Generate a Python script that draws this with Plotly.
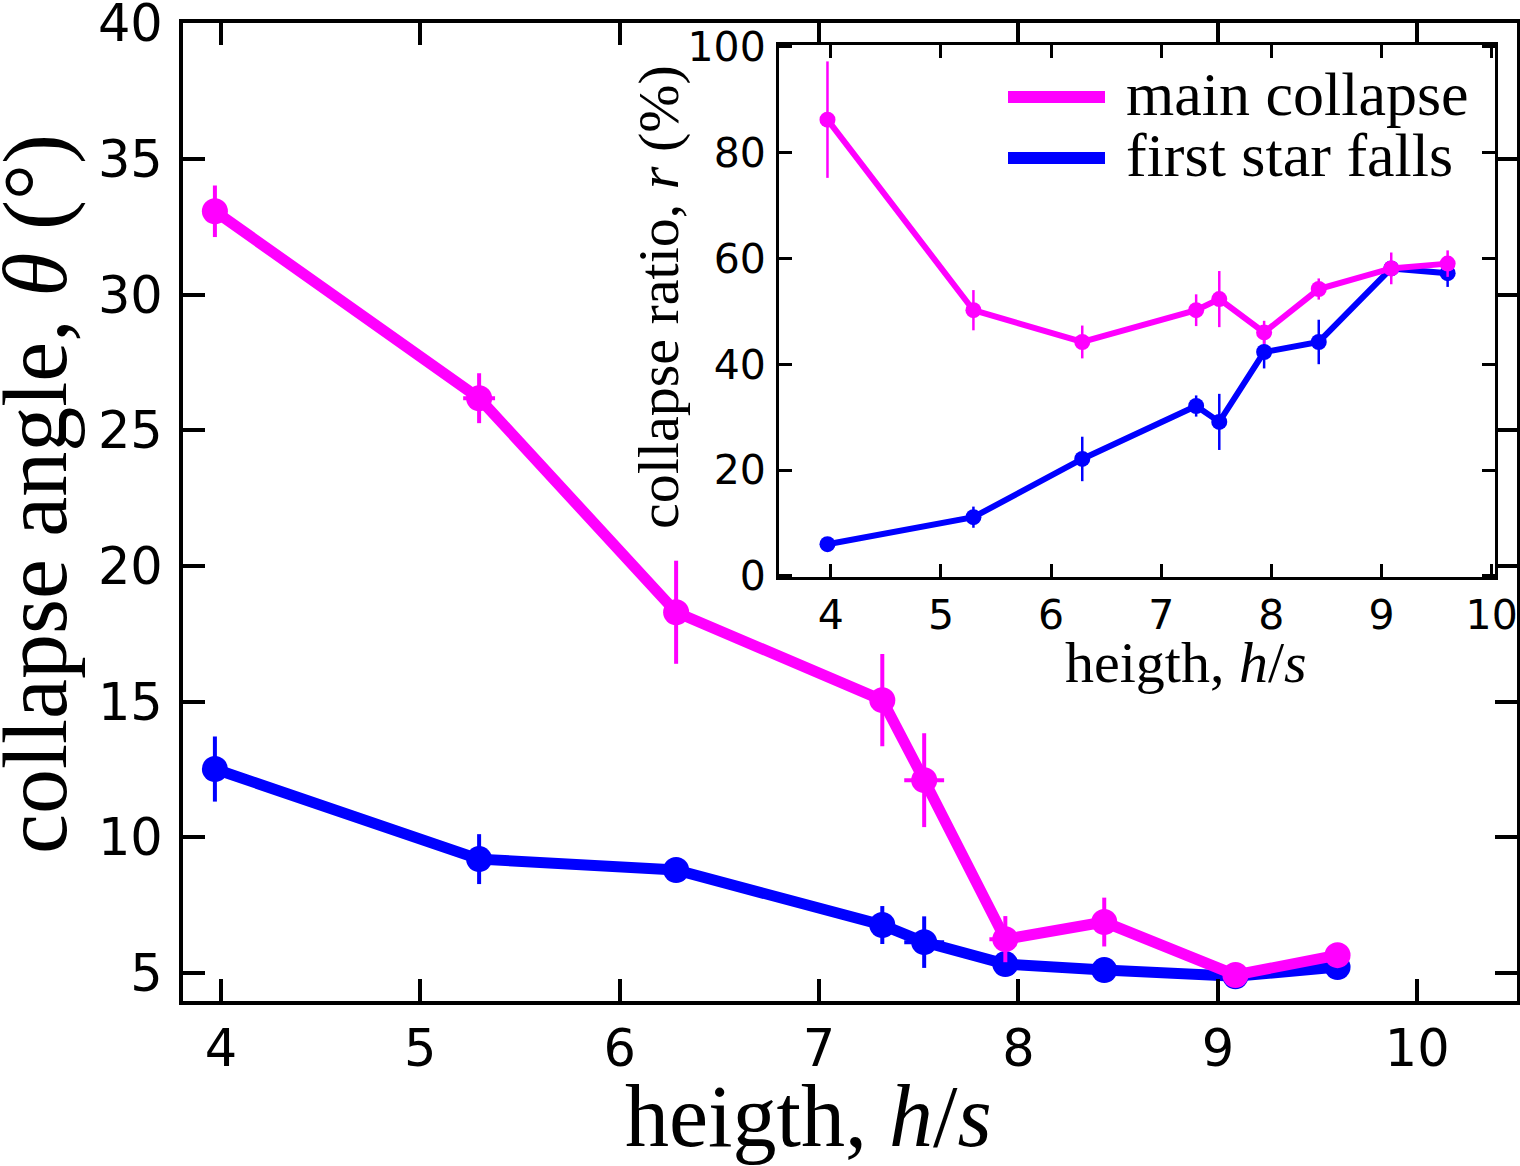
import plotly.graph_objects as go

# ---------------- data ----------------
heights = [3.97, 5.295, 6.283, 7.317, 7.527, 7.934, 8.43, 9.088, 9.6]

angle_main = [33.08, 26.19, 18.3, 15.06, 12.11, 6.25, 6.88, 4.93, 5.66]
angle_main_err = [0.95, 0.92, 1.9, 1.7, 1.73, 0.85, 0.9, 0.0, 0.0]
angle_main_xerr = [0.0, 0.08, 0.0, 0.0, 0.1, 0.08, 0.0, 0.0, 0.0]

angle_first = [12.52, 9.2, 8.8, 6.77, 6.14, 5.33, 5.11, 4.88, 5.22]
angle_first_err = [1.2, 0.92, 0.0, 0.7, 0.95, 0.0, 0.0, 0.0, 0.0]
angle_first_xerr = [0.0, 0.0, 0.0, 0.06, 0.1, 0.0, 0.0, 0.0, 0.0]

ratio_main = [86.2, 50.2, 44.2, 50.2, 52.3, 46.0, 54.2, 58.1, 59.0]
ratio_main_err = [11.0, 3.8, 3.1, 3.0, 5.3, 2.2, 2.0, 3.0, 2.5]

ratio_first = [6.0, 11.1, 22.1, 32.1, 29.1, 42.3, 44.2, 58.1, 57.2]
ratio_first_err = [0.0, 2.0, 4.2, 2.0, 5.3, 3.1, 4.2, 0.0, 2.6]

main_xticks = [4, 5, 6, 7, 8, 9, 10]
main_yticks = [5, 10, 15, 20, 25, 30, 35, 40]
inset_xticks = [4, 5, 6, 7, 8, 9, 10]
inset_yticks = [0, 20, 40, 60, 80, 100]

MAGENTA = "#FF00FF"
BLUE = "#0000FF"
W, H = 1520, 1166
L, R, T, B = 183, 3, 23, 165

def px_x(px):
    return (px - L) / (W - L - R)

def px_y(py):
    return (H - B - py) / (H - T - B)

fig = go.Figure()

# main plot
fig.add_trace(go.Scatter(
    x=heights, y=angle_first, mode="lines+markers",
    line=dict(color=BLUE, width=11), marker=dict(color=BLUE, size=26),
    error_y=dict(type="data", array=angle_first_err, color=BLUE, thickness=4, width=0),
    error_x=dict(type="data", array=angle_first_xerr, color=BLUE, thickness=4, width=0),
    showlegend=False, xaxis="x", yaxis="y"))
fig.add_trace(go.Scatter(
    x=heights, y=angle_main, mode="lines+markers",
    line=dict(color=MAGENTA, width=11), marker=dict(color=MAGENTA, size=26),
    error_y=dict(type="data", array=angle_main_err, color=MAGENTA, thickness=4, width=0),
    error_x=dict(type="data", array=angle_main_xerr, color=MAGENTA, thickness=4, width=0),
    showlegend=False, xaxis="x", yaxis="y"))

# inset
fig.add_trace(go.Scatter(
    x=heights, y=ratio_first, mode="lines+markers",
    line=dict(color=BLUE, width=6), marker=dict(color=BLUE, size=16),
    error_y=dict(type="data", array=ratio_first_err, color=BLUE, thickness=2.5, width=0),
    showlegend=False, xaxis="x2", yaxis="y2"))
fig.add_trace(go.Scatter(
    x=heights, y=ratio_main, mode="lines+markers",
    line=dict(color=MAGENTA, width=6), marker=dict(color=MAGENTA, size=16),
    error_y=dict(type="data", array=ratio_main_err, color=MAGENTA, thickness=2.5, width=0),
    showlegend=False, xaxis="x2", yaxis="y2"))

tickfont_main = dict(family="DejaVu Sans", size=51, color="black")
tickfont_inset = dict(family="DejaVu Sans", size=41, color="black")

fig.update_layout(
    width=W, height=H,
    margin=dict(l=L, r=R, t=T, b=B, autoexpand=False),
    paper_bgcolor="white", plot_bgcolor="white",
    xaxis=dict(range=[3.81, 10.5], tickvals=main_xticks, ticks="inside", ticklen=22,
               tickwidth=4, tickcolor="black", showline=True, linewidth=4, linecolor="black",
               mirror="ticks", showgrid=False, zeroline=False, tickfont=tickfont_main,
               ticklabelstandoff=0, automargin=False, ticklabeloverflow="allow"),
    yaxis=dict(range=[3.97, 40.02], tickvals=main_yticks, ticks="inside", ticklen=22,
               tickwidth=4, tickcolor="black", showline=True, linewidth=4, linecolor="black",
               mirror="ticks", showgrid=False, zeroline=False, tickfont=tickfont_main,
               ticklabelstandoff=6, automargin=False, ticklabeloverflow="allow"),
    xaxis2=dict(domain=[px_x(779), px_x(1495)], anchor="y2", range=[3.53, 10.03],
                tickvals=inset_xticks, ticks="inside", ticklen=13, tickwidth=3,
                tickcolor="black", showline=True, linewidth=3, linecolor="black",
                mirror="ticks", showgrid=False, zeroline=False, tickfont=tickfont_inset,
                ticklabelstandoff=0, automargin=False, ticklabeloverflow="allow"),
    yaxis2=dict(domain=[px_y(577), px_y(45)], anchor="x2", range=[-0.2, 100.3],
                tickvals=inset_yticks, ticks="inside", ticklen=13, tickwidth=3,
                tickcolor="black", showline=True, linewidth=3, linecolor="black",
                mirror="ticks", showgrid=False, zeroline=False, tickfont=tickfont_inset,
                ticklabelstandoff=2, automargin=False, ticklabeloverflow="allow"),
)

serif = "Liberation Serif"
annotations = [
    dict(text="heigth, <i>h</i>/<i>s</i>", x=px_x(808), y=px_y(1116), xref="paper", yref="paper",
         showarrow=False, font=dict(family=serif, size=88, color="black"),
         xanchor="center", yanchor="middle"),
    dict(text="collapse angle, <i>θ</i> (°)", x=px_x(36), y=px_y(494), xref="paper", yref="paper",
         showarrow=False, textangle=-90, font=dict(family=serif, size=90, color="black"),
         xanchor="center", yanchor="middle"),
    dict(text="heigth, <i>h</i>/<i>s</i>", x=px_x(1186), y=px_y(663), xref="paper", yref="paper",
         showarrow=False, font=dict(family=serif, size=58, color="black"),
         xanchor="center", yanchor="middle"),
    dict(text="collapse ratio, <i>r</i> (%)", x=px_x(658), y=px_y(297), xref="paper", yref="paper",
         showarrow=False, textangle=-90, font=dict(family=serif, size=58, color="black"),
         xanchor="center", yanchor="middle"),
    dict(text="main collapse", x=px_x(1124), y=px_y(94), xref="paper", yref="paper",
         showarrow=False, font=dict(family=serif, size=62, color="black"),
         xanchor="left", yanchor="middle"),
    dict(text="first star falls", x=px_x(1124), y=px_y(155), xref="paper", yref="paper",
         showarrow=False, font=dict(family=serif, size=62, color="black"),
         xanchor="left", yanchor="middle"),
]
fig.update_layout(annotations=annotations)

shapes = [
    dict(type="line", xref="paper", yref="paper", x0=px_x(1008), x1=px_x(1105),
         y0=px_y(97), y1=px_y(97), line=dict(color=MAGENTA, width=12)),
    dict(type="line", xref="paper", yref="paper", x0=px_x(1008), x1=px_x(1105),
         y0=px_y(158), y1=px_y(158), line=dict(color=BLUE, width=12)),
]
fig.update_layout(shapes=shapes)

fig.write_html(
    "out.html",
    config={"responsive": False, "displayModeBar": False},
    post_script="document.body.style.margin='0';document.body.style.padding='0';document.body.style.overflow='hidden';",
)
